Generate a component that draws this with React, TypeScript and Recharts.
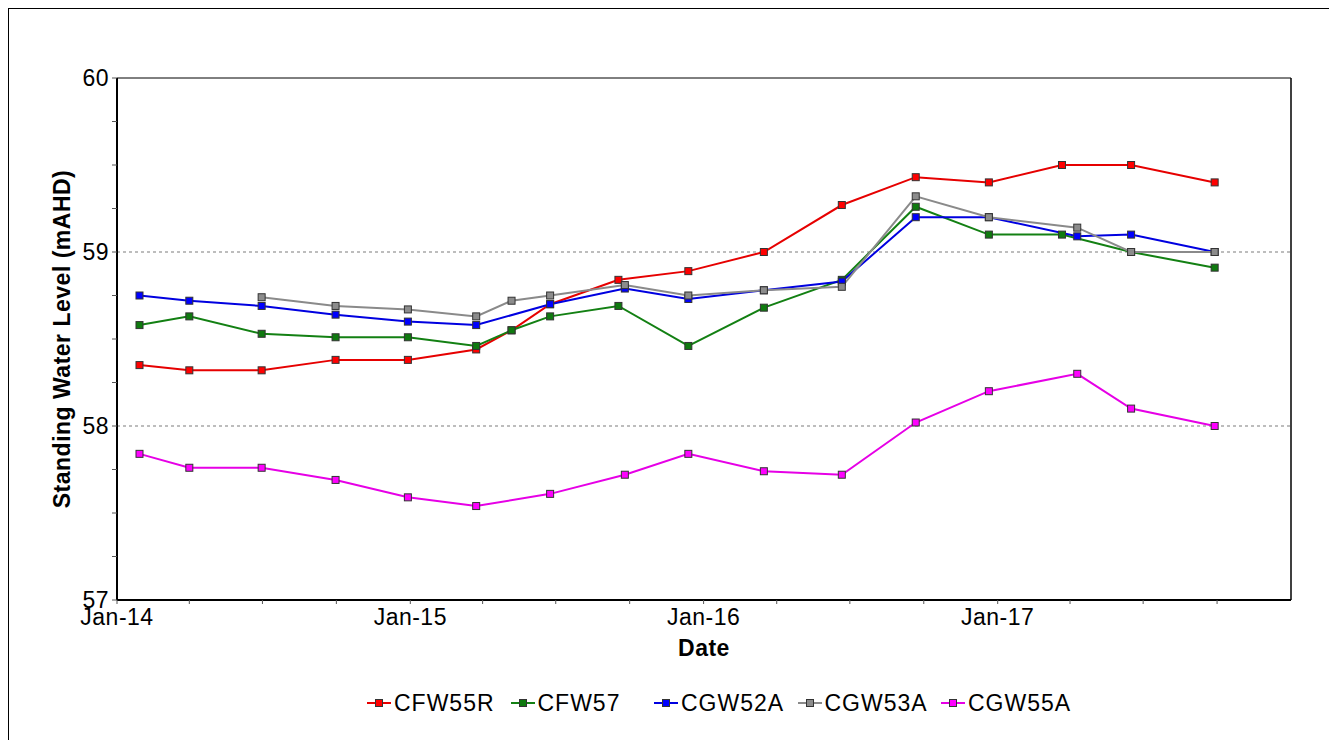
import React from "react";
import {
  Legend,
  Line,
  LineChart,
  ReferenceLine,
  XAxis,
  YAxis,
} from "recharts";

// survey dates (one row per sampling round)
const surveyDates = [
  "2014-01-29",
  "2014-04-01",
  "2014-06-30",
  "2014-09-30",
  "2014-12-29",
  "2015-03-24",
  "2015-05-07",
  "2015-06-24",
  "2015-09-17",
  "2015-09-25",
  "2015-12-13",
  "2016-03-16",
  "2016-06-21",
  "2016-09-21",
  "2016-12-21",
  "2017-03-22",
  "2017-04-10",
  "2017-06-16",
  "2017-09-28",
];

// standing water level, mAHD (null = not measured that round)
const cfw55r = [58.35, 58.32, 58.32, 58.38, 58.38, 58.44, 58.55, 58.7, 58.84, null, 58.89, 59.0, 59.27, 59.43, 59.4, 59.5, null, 59.5, 59.4];
const cfw57 = [58.58, 58.63, 58.53, 58.51, 58.51, 58.46, 58.55, 58.63, 58.69, null, 58.46, 58.68, 58.84, 59.26, 59.1, 59.1, null, 59.0, 58.91];
const cgw52a = [58.75, 58.72, 58.69, 58.64, 58.6, 58.58, null, 58.7, null, 58.79, 58.73, 58.78, 58.83, 59.2, 59.2, null, 59.09, 59.1, 59.0];
const cgw53a = [null, null, 58.74, 58.69, 58.67, 58.63, 58.72, 58.75, null, 58.81, 58.75, 58.78, 58.8, 59.32, 59.2, null, 59.14, 59.0, 59.0];
const cgw55a = [57.84, 57.76, 57.76, 57.69, 57.59, 57.54, null, 57.61, null, 57.72, 57.84, 57.74, 57.72, 58.02, 58.2, null, 58.3, 58.1, 58.0];

const seriesNames = ["CFW55R", "CFW57", "CGW52A", "CGW53A", "CGW55A"];
const seriesValues = [cfw55r, cfw57, cgw52a, cgw53a, cgw55a];
const lineColors = ["#e60000", "#138013", "#0000e0", "#8a8a8a", "#e600e6"];
const markerColors = ["#ff0000", "#0f7a0f", "#0000ff", "#8c8c8c", "#ff00ff"];

const xTickDates = [
  "2014-01-01", "2014-04-01", "2014-07-01", "2014-10-01",
  "2015-01-01", "2015-04-01", "2015-07-01", "2015-10-01",
  "2016-01-01", "2016-04-01", "2016-07-01", "2016-10-01",
  "2017-01-01", "2017-04-01", "2017-07-01", "2017-10-01",
];
const xDomain = ["2014-01-01", "2018-01-01"];
const yTicks = [57, 57.25, 57.5, 57.75, 58, 58.25, 58.5, 58.75, 59, 59.25, 59.5, 59.75, 60];
const gridValues = [58, 59];

const MONTHS = ["Jan", "Feb", "Mar", "Apr", "May", "Jun", "Jul", "Aug", "Sep", "Oct", "Nov", "Dec"];
const toT = (s: string) => Date.parse(s + "T00:00:00Z");

const rows = surveyDates.map((d, i) => {
  const row: Record<string, number | null> = { t: toT(d) };
  seriesNames.forEach((n, k) => {
    row[n] = seriesValues[k][i];
  });
  return row;
});

const FONT = '"Liberation Sans", Arial, sans-serif';
const FS = 23;

function fmtDate(v: number) {
  const d = new Date(v);
  if (d.getUTCMonth() !== 0) return "";
  return `${MONTHS[0]}-${String(d.getUTCFullYear()).slice(2)}`;
}

function SquareDot(props: any) {
  const { cx, cy, index, fill } = props;
  if (cx == null || cy == null || Number.isNaN(cy)) return <g key={index} />;
  return (
    <rect
      key={index}
      x={cx - 3.5}
      y={cy - 3.5}
      width={7}
      height={7}
      fill={fill}
      stroke="#333"
      strokeWidth={1}
    />
  );
}

function YTitle(props: any) {
  const vb = props.viewBox || {};
  const cx = 53;
  const cy = vb.y + vb.height / 2;
  return (
    <text
      x={cx}
      y={cy}
      transform={`rotate(-90 ${cx} ${cy})`}
      textAnchor="middle"
      dominantBaseline="central"
      fontFamily={FONT}
      fontSize={FS}
      letterSpacing={0.5}
      fontWeight="bold"
      fill="#000"
    >
      Standing Water Level (mAHD)
    </text>
  );
}

function XTitle(props: any) {
  const vb = props.viewBox || {};
  return (
    <text
      x={vb.x + vb.width / 2}
      y={647}
      textAnchor="middle"
      fontFamily={FONT}
      fontSize={FS}
      letterSpacing={0.5}
      fontWeight="bold"
      fill="#000"
    >
      Date
    </text>
  );
}

function LegendContent() {
  return (
    <div style={{ display: "flex", fontFamily: FONT, fontSize: FS, letterSpacing: 1, color: "#000" }}>
      {seriesNames.map((n, k) => (
        <div
          key={n}
          style={{ width: 143.5, display: "flex", alignItems: "center", height: 26 }}
        >
          <svg width={24} height={12} style={{ marginRight: 3 }}>
            <line x1={0} y1={6} x2={24} y2={6} stroke={lineColors[k]} strokeWidth={2} />
            <rect x={8.5} y={2.5} width={7} height={7} fill={markerColors[k]} stroke="#333" strokeWidth={1} />
          </svg>
          <span>{n}</span>
        </div>
      ))}
    </div>
  );
}

const tickStyle = { fill: "#000", fontSize: FS, fontFamily: FONT, letterSpacing: 0.5 };

export default function App() {
  return (
    <div
      style={{
        width: 1322,
        height: 740,
        border: "1px solid #000",
        boxSizing: "border-box",
        background: "#fff",
      }}
    >
      <LineChart
        width={1320}
        height={738}
        data={rows}
        margin={{ top: 69, right: 38, left: 0, bottom: 61 }}
      >
        <XAxis
          dataKey="t"
          type="number"
          domain={[toT(xDomain[0]), toT(xDomain[1])]}
          ticks={xTickDates.map(toT)}
          interval={0}
          tickFormatter={fmtDate}
          axisLine={{ stroke: "#000", strokeWidth: 2 }}
          tickLine={{ stroke: "#555" }}
          tickSize={4}
          tickMargin={5}
          height={60}
          tick={tickStyle}
          label={<XTitle />}
        />
        <YAxis
          type="number"
          domain={[57, 60]}
          ticks={yTicks}
          interval={0}
          tickFormatter={(v: number) => (Number.isInteger(v) ? String(v) : "")}
          axisLine={{ stroke: "#000", strokeWidth: 2 }}
          tickLine={{ stroke: "#555" }}
          tickSize={5}
          tickMargin={3}
          width={108}
          tick={tickStyle}
          label={<YTitle />}
        />
        {gridValues.map((g) => (
          <ReferenceLine key={g} y={g} stroke="#a8a8a8" strokeDasharray="3 3" strokeWidth={1.5} />
        ))}
        <ReferenceLine y={60} stroke="#000" strokeWidth={1} />
        <ReferenceLine x={toT(xDomain[1])} stroke="#000" strokeWidth={1.5} />
        <Legend
          content={<LegendContent />}
          wrapperStyle={{ left: 358, top: 681, width: 720, height: 26 }}
        />
        {seriesNames.map((n, k) => (
          <Line
            key={n}
            dataKey={n}
            name={n}
            type="linear"
            stroke={lineColors[k]}
            strokeWidth={2}
            connectNulls
            dot={<SquareDot fill={markerColors[k]} />}
            activeDot={false}
            isAnimationActive={false}
          />
        ))}
      </LineChart>
    </div>
  );
}
